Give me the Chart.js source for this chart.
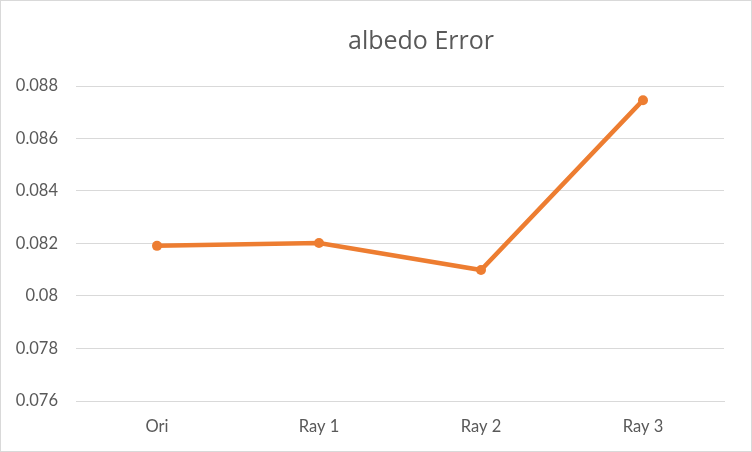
<!DOCTYPE html>
<html><head><meta charset="utf-8">
<script src="https://cdn.jsdelivr.net/npm/chart.js@4"></script>
<style>html,body{margin:0;padding:0;background:#fff}#wrap{width:752px;height:452px}</style>
</head><body><div id="wrap"><canvas id="c" width="752" height="452"></canvas></div>
<script>
const categories = ["Ori", "Ray 1", "Ray 2", "Ray 3"];
const albedoError = [0.08191, 0.08202, 0.08099, 0.08746];
const yTicks = [0.076, 0.078, 0.08, 0.082, 0.084, 0.086, 0.088];

const borderPlugin = {
  id: 'border',
  afterLayout(chart) {
    const t = chart.titleBlock;
    if (t) { t.left += 59; t.right += 59; }
  },
  afterDraw(chart) {
    const ctx = chart.ctx;
    ctx.save();
    ctx.strokeStyle = '#d9d9d9';
    ctx.lineWidth = 1;
    ctx.strokeRect(0.5, 0.5, chart.width - 1, chart.height - 1);
    ctx.restore();
  }
};

new Chart(document.getElementById('c'), {
  type: 'line',
  data: {
    labels: categories,
    datasets: [{
      label: 'albedo Error',
      data: albedoError,
      borderColor: '#ED7D31',
      backgroundColor: '#ED7D31',
      borderWidth: 4.5,
      pointRadius: 5,
      pointHoverRadius: 5,
      pointBorderWidth: 0,
      tension: 0
    }]
  },
  options: {
    responsive: false,
    animation: false,
    devicePixelRatio: 1,
    layout: { padding: { left: 0, right: 28, top: 0, bottom: 0 } },
    plugins: {
      legend: { display: false },
      tooltip: { enabled: false },
      title: {
        display: true,
        text: 'albedo Error',
        color: '#595959',
        font: { family: 'Open Sans', size: 25, weight: 'normal', lineHeight: 1.2 },
        padding: { top: 27, bottom: 29 }
      }
    },
    scales: {
      x: {
        offset: true,
        grid: { display: false, drawTicks: false },
        border: { display: true, color: '#d9d9d9', width: 1 },
        ticks: { color: '#595959', font: { family: 'Lato', size: 16.5 }, padding: 16 },
        afterFit(s) { s.height = 51; }
      },
      y: {
        min: 0.076,
        max: 0.088,
        afterBuildTicks(s) { s.ticks = yTicks.map(v => ({ value: v })); },
        grid: { color: '#d9d9d9', lineWidth: 1, drawTicks: false },
        border: { display: false },
        ticks: {
          color: '#595959',
          font: { family: 'Lato', size: 16.5 },
          padding: 18,
          callback: v => String(+v.toFixed(3))
        },
        afterFit(s) { s.width = 76; }
      }
    }
  },
  plugins: [borderPlugin]
});
</script>
</body></html>
